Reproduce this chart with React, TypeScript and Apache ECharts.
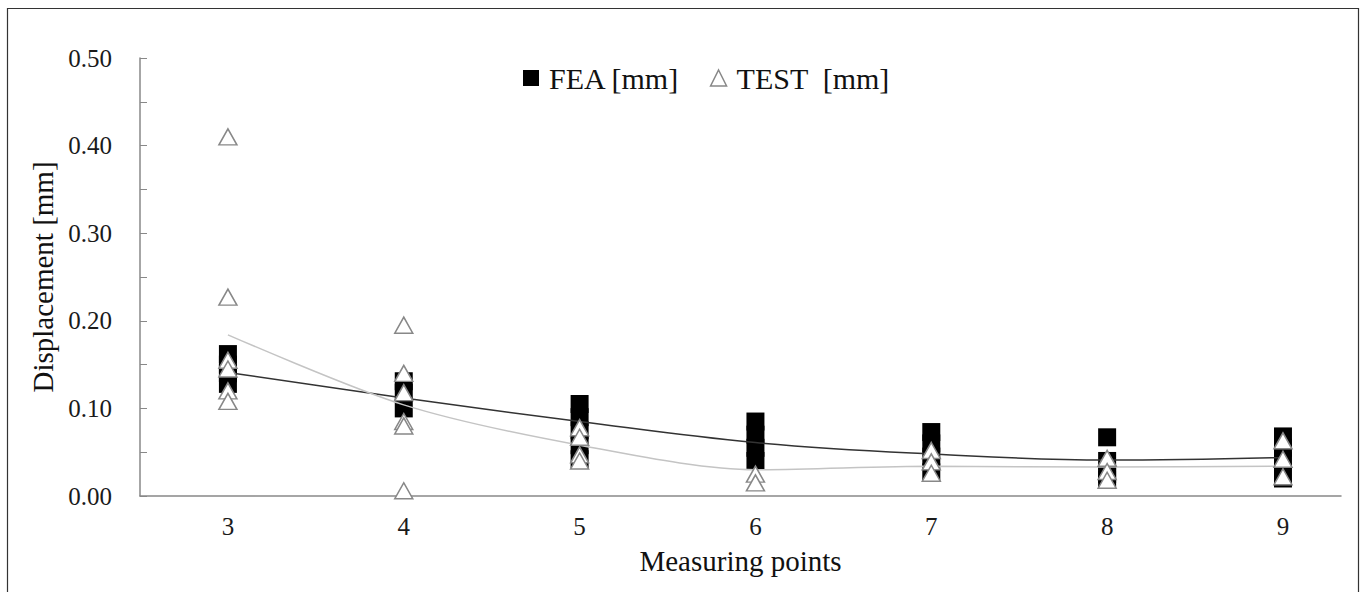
import React, { useEffect, useRef } from "react";
import * as echarts from "echarts";

const measuringPoints = [3, 4, 5, 6, 7, 8, 9];
const feaValues: number[][] = [
  [0.162, 0.15, 0.14, 0.128],
  [0.131, 0.118, 0.1],
  [0.105, 0.09, 0.075, 0.058, 0.042],
  [0.085, 0.07, 0.055, 0.04],
  [0.073, 0.06, 0.045, 0.027],
  [0.067, 0.04, 0.025, 0.019],
  [0.068, 0.055, 0.04, 0.02],
];
const testValues: number[][] = [
  [0.41, 0.227, 0.155, 0.145, 0.12, 0.108],
  [0.195, 0.14, 0.118, 0.085, 0.08, 0.006],
  [0.078, 0.067, 0.047, 0.04],
  [0.025, 0.015],
  [0.052, 0.039, 0.026],
  [0.043, 0.028, 0.018],
  [0.063, 0.042, 0.022],
];
const feaTrend = [0.141, 0.112, 0.085, 0.061, 0.048, 0.041, 0.044];
const testTrend = [0.184, 0.104, 0.058, 0.03, 0.034, 0.033, 0.034];
const yTicks = [0, 0.1, 0.2, 0.3, 0.4, 0.5];

const FONT = "Liberation Serif";

export default function App() {
  const ref = useRef<HTMLDivElement>(null);
  useEffect(() => {
    if (!ref.current) return;
    const chart = echarts.init(ref.current, null, { renderer: "svg" });
    const toPairs = (vals: number[][]) =>
      vals.flatMap((arr, i) => arr.map((v) => [measuringPoints[i], v]));
    const labelRich = { s: { fontFamily: FONT, fontSize: 25, color: "#1a1a1a" } };
    chart.setOption({
      animation: false,
      backgroundColor: "#fff",
      textStyle: { fontFamily: FONT },
      grid: { left: 140, right: 23, top: 58, bottom: 96 },
      graphic: [
        {
          type: "rect",
          shape: { x: 7.5, y: 8.5, width: 1351, height: 600 },
          style: { fill: "none", stroke: "#333", lineWidth: 1.2 },
          silent: true,
        },
      ],
      legend: {
        left: 518,
        top: 58,
        itemWidth: 16,
        itemHeight: 16,
        itemGap: 30,
        textStyle: { fontFamily: FONT, fontSize: 30, color: "#111", padding: [0, 0, 0, 5] },
        data: [
          { name: "FEA [mm]", icon: "rect", itemStyle: { color: "#000", borderWidth: 0, opacity: 1 } },
          {
            name: "TEST  [mm]",
            icon: "triangle",
            itemStyle: { color: "#fff", borderColor: "#888", borderWidth: 1.5, opacity: 1 },
          },
        ],
      },
      xAxis: {
        type: "value",
        min: 2.5,
        max: 9.33,
        name: "Measuring points",
        nameLocation: "middle",
        nameGap: 50,
        nameTextStyle: { fontFamily: FONT, fontSize: 29, color: "#111" },
        axisLine: { show: true, onZero: false, lineStyle: { color: "#888", width: 1.5 } },
        axisTick: { show: false },
        splitLine: { show: false },
        axisLabel: {
          customValues: measuringPoints,
          fontFamily: FONT,
          fontSize: 25,
          color: "#1a1a1a",
          margin: 18,
          formatter: (v: number) => `{s|${v}}`,
          rich: labelRich,
        },
      },
      yAxis: {
        type: "value",
        min: 0,
        max: 0.5,
        interval: 0.1,
        name: "Displacement [mm]",
        nameLocation: "middle",
        nameGap: 76,
        nameTextStyle: { fontFamily: FONT, fontSize: 29, color: "#111" },
        axisLine: { show: true, lineStyle: { color: "#888", width: 1.5 } },
        axisTick: { show: true, inside: true, length: 7, lineStyle: { color: "#888" } },
        minorTick: { show: true, splitNumber: 2, length: 7, lineStyle: { color: "#888" } },
        splitLine: { show: false },
        axisLabel: {
          fontFamily: FONT,
          fontSize: 25,
          color: "#1a1a1a",
          margin: 28,
          formatter: (v: number) =>
            yTicks.some((t) => Math.abs(t - v) < 1e-9) ? `{s|${v.toFixed(2)}}` : "",
          rich: labelRich,
        },
      },
      series: [
        {
          name: "FEA [mm]",
          type: "scatter",
          symbol: "rect",
          symbolSize: 18,
          itemStyle: { color: "#000", opacity: 1 },
          data: toPairs(feaValues),
          z: 2,
        },
        {
          name: "FEA trend",
          type: "line",
          data: measuringPoints.map((x, i) => [x, feaTrend[i]]),
          smooth: 0.4,
          symbol: "none",
          lineStyle: { color: "#333", width: 1.5 },
          z: 3,
        },
        {
          name: "TEST trend",
          type: "line",
          data: measuringPoints.map((x, i) => [x, testTrend[i]]),
          smooth: 0.3,
          symbol: "none",
          lineStyle: { color: "#c4c4c4", width: 1.5 },
          z: 3,
        },
        {
          name: "TEST  [mm]",
          type: "scatter",
          symbol: "triangle",
          symbolSize: [18, 16],
          itemStyle: { color: "#fff", borderColor: "#888", borderWidth: 1.5, opacity: 1 },
          data: toPairs(testValues),
          z: 4,
        },
      ],
    });
    return () => chart.dispose();
  }, []);
  return (
    <div
      ref={ref}
      style={{ position: "absolute", left: 0, top: 0, width: 1364, height: 592 }}
    />
  );
}
